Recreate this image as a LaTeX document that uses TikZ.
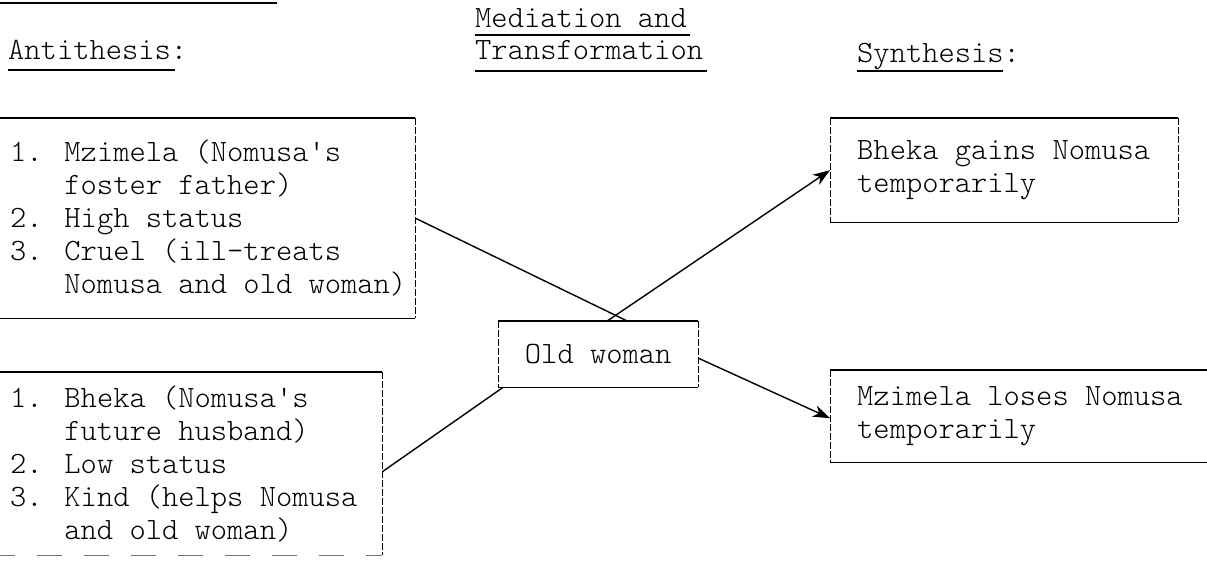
\documentclass[tikz,border=0pt]{standalone}
\usetikzlibrary{arrows.meta}
\begin{document}
\begin{tikzpicture}[x=1pt,y=-1pt,
  tt/.style={font=\fontsize{31}{33}\fontseries{l}\ttfamily\selectfont, inner sep=0pt},
  head/.style={tt, anchor=base west},
  body/.style={tt, align=left, anchor=west},
  frame/.style={rectangle, draw=none, inner sep=0pt, anchor=north west},
  rule/.style={line width=1.5pt},
  side/.style={line width=0.9pt, dash pattern=on 7pt off 2pt},
  faint/.style={line width=0.8pt, black!55, dash pattern=on 25pt off 22pt},
  link/.style={line width=1.4pt},
  arr/.style={link, -{Stealth[length=17pt,width=12pt,inset=5pt]}}]

\useasboundingbox (0,0) rectangle (1207,569);

% column headings
\draw[rule] (0,3) -- (277,3);
\node[head] (h1) at (8,60) {Antithesis:};
\node[head] (h2) at (475,28) {Mediation and};
\node[head] (h3) at (475,60) {Transformation};
\node[head] (h4) at (857,63) {Synthesis:};
\draw[rule] ([yshift=-10pt]h1.base west) -- ([yshift=-10pt,xshift=-12pt]h1.base east);
\draw[rule] ([yshift=-7pt]h2.base west) -- ([yshift=-7pt,xshift=3pt]h2.base east);
\draw[rule] ([yshift=-11pt]h3.base west) -- ([yshift=-11pt,xshift=4pt]h3.base east);
\draw[rule] ([yshift=-8pt]h4.base west) -- ([yshift=-8pt,xshift=-17pt]h4.base east);

% frames
\node[frame, minimum width=425pt, minimum height=200pt] (anti1) at (-10,118) {};
\node[frame, minimum width=392pt, minimum height=183pt] (anti2) at (-10,372) {};
\node[frame, minimum width=200pt, minimum height=66pt] (med) at (498,321) {};
\node[frame, minimum width=348pt, minimum height=104pt] (syn1) at (830,118) {};
\node[frame, minimum width=400pt, minimum height=92pt] (syn2) at (830,370) {};

\draw[rule] (anti1.north west) -- (anti1.north east);
\draw[rule] (anti1.south west) -- (anti1.south east);
\draw[side] (anti1.north east) -- (anti1.south east);

\draw[rule] (anti2.north west) -- (anti2.north east);
\draw[side] (anti2.north east) -- (anti2.south east);
\draw[faint] (anti2.south west) -- (anti2.south east);

\draw[rule] (med.north west) -- (med.north east);
\draw[rule] (med.south west) -- (med.south east);
\draw[side] (med.north west) -- (med.south west);
\draw[side] (med.north east) -- (med.south east);

\draw[rule] (syn1.north west) -- (syn1.north east);
\draw[rule] (syn1.south west) -- (syn1.south east);
\draw[side] (syn1.north west) -- (syn1.south west);
\draw[side] (syn1.north east) -- (syn1.south east);

\draw[rule] (syn2.north west) -- (syn2.north east);
\draw[rule] (syn2.south west) -- (syn2.south east);
\draw[side] (syn2.north west) -- (syn2.south west);

% texts
\node[body] (t1) at ([xshift=20pt]anti1.west) {1. Mzimela (Nomusa\textquotesingle s\\\phantom{1. }foster father)\\2. High status\\3. Cruel (ill-treats\\\phantom{3. }Nomusa and old woman)};
\node[body] (t2) at ([xshift=20pt]anti2.west) {1. Bheka (Nomusa\textquotesingle s\\\phantom{1. }future husband)\\2. Low status\\3. Kind (helps Nomusa\\\phantom{3. }and old woman)};
\node[tt] (t3) at (med.center) {Old woman};
\node[body] (t4) at ([xshift=27pt]syn1.west) {Bheka gains Nomusa\\temporarily};
\node[body] (t5) at ([xshift=27pt]syn2.west) {Mzimela loses Nomusa\\temporarily};

% connectors
\draw[link] (anti1.east) -- ([xshift=29pt]med.north);
\draw[arr] ([xshift=9pt]med.north) -- (syn1.west);
\draw[link] ([yshift=-8pt]anti2.east) -- ([xshift=5pt]med.south west);
\draw[arr] ([yshift=-4pt]med.east) -- ([yshift=-2pt]syn2.west);
\end{tikzpicture}
\end{document}
